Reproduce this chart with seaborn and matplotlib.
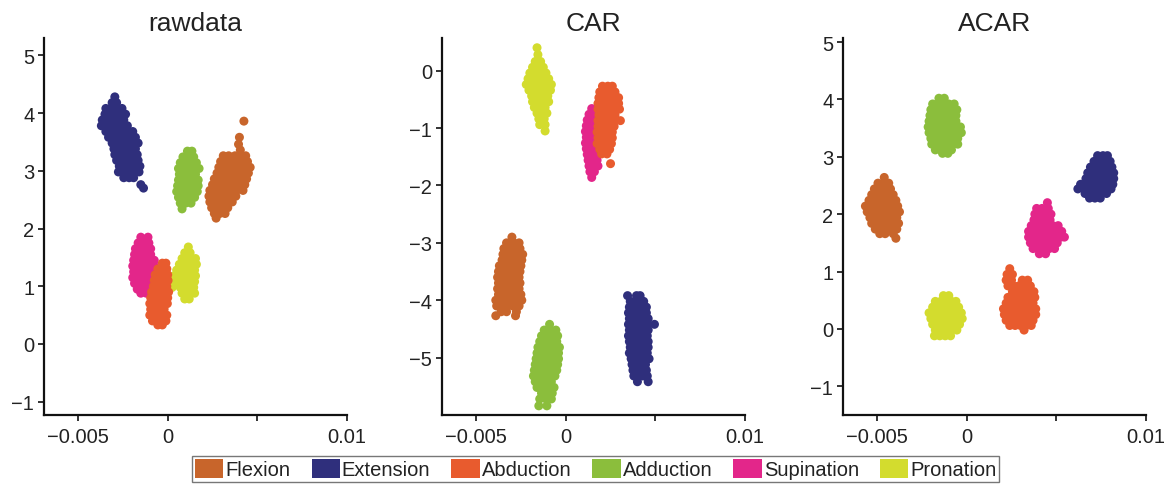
import matplotlib
matplotlib.use("Agg")
import matplotlib.pyplot as plt
from matplotlib.patches import Patch
import seaborn as sns
import pandas as pd

# ---------------- data (x in units of 1e-3, rows of (y, [x values])) ----------------
MOVEMENTS = ["Flexion", "Extension", "Abduction", "Adduction", "Supination", "Pronation"]
COLORS = ["#C8652B", "#2F2F7C", "#E85B2E", "#8BBE3C", "#E3268A", "#D3DC2E"]
DRAW_ORDER = ["Flexion", "Extension", "Supination", "Adduction", "Pronation", "Abduction"]
TITLES = ["rawdata", "CAR", "ACAR"]

# ---- rawdata ----
RAW_FLEXION = [
    (3.86, [4.25]), (3.58, [4.0]), (3.46, [3.95]), (3.36, [4.05]),
    (3.26, [3.1, 3.4, 3.75, 4.1, 4.35]),
    (3.16, [2.95, 3.25, 3.55, 3.85, 4.15, 4.45]),
    (3.06, [2.85, 3.15, 3.45, 3.75, 4.05, 4.35, 4.6]),
    (2.96, [2.75, 3.05, 3.35, 3.65, 3.95, 4.25, 4.5]),
    (2.86, [2.6, 2.9, 3.2, 3.5, 3.8, 4.1, 4.4]),
    (2.76, [2.5, 2.8, 3.1, 3.4, 3.7, 4.0, 4.3]),
    (2.66, [2.35, 2.65, 2.95, 3.25, 3.55, 3.85, 4.2]),
    (2.56, [2.3, 2.6, 2.9, 3.2, 3.5, 3.8]),
    (2.46, [2.35, 2.65, 2.95, 3.25, 3.6]),
    (2.36, [2.45, 2.75, 3.05, 3.35]),
    (2.26, [2.6, 2.9, 3.2]),
    (2.18, [2.7]),
]
RAW_EXTENSION = [
    (4.28, [-2.95]), (4.18, [-3.1, -2.85]),
    (4.08, [-3.45, -3.15, -2.85, -2.55]),
    (3.98, [-3.5, -3.2, -2.9, -2.6, -2.35]),
    (3.88, [-3.65, -3.35, -3.05, -2.75, -2.45]),
    (3.78, [-3.7, -3.4, -3.1, -2.8, -2.5, -2.25]),
    (3.68, [-3.45, -3.15, -2.85, -2.55, -2.25, -1.95]),
    (3.58, [-3.3, -3.0, -2.7, -2.4, -2.1, -1.8]),
    (3.48, [-3.1, -2.8, -2.5, -2.2, -1.9, -1.65]),
    (3.38, [-3.0, -2.7, -2.4, -2.1, -1.8]),
    (3.28, [-2.95, -2.65, -2.35, -2.05, -1.7]),
    (3.18, [-2.85, -2.55, -2.25, -1.95, -1.65]),
    (3.08, [-2.7, -2.4, -2.1, -1.8, -1.55]),
    (2.98, [-2.75, -2.45, -2.15, -1.85, -1.6]),
    (2.88, [-2.45, -2.15, -1.9]),
    (2.76, [-1.5]), (2.70, [-1.35]),
]
RAW_ABDUCTION = [
    (1.40, [-0.3, -0.1]),
    (1.30, [-0.55, -0.3, -0.05]),
    (1.20, [-0.7, -0.45, -0.2, 0.0]),
    (1.10, [-0.75, -0.5, -0.25, 0.02]),
    (1.00, [-0.8, -0.55, -0.3, -0.05]),
    (0.90, [-0.9, -0.65, -0.4, -0.15, 0.05]),
    (0.80, [-0.95, -0.7, -0.45, -0.2, 0.0]),
    (0.70, [-1.0, -0.75, -0.5, -0.25, -0.02]),
    (0.60, [-0.95, -0.7, -0.45, -0.2]),
    (0.50, [-1.0, -0.75, -0.5, -0.25, -0.05]),
    (0.40, [-0.85, -0.6, -0.35, -0.1]),
    (0.33, [-0.55, -0.3]),
]
RAW_ADDUCTION = [
    (3.34, [1.1, 1.35]),
    (3.24, [0.85, 1.15, 1.45]),
    (3.14, [0.7, 1.0, 1.3, 1.6]),
    (3.04, [0.6, 0.9, 1.2, 1.5, 1.75]),
    (2.94, [0.65, 0.95, 1.25, 1.55]),
    (2.84, [0.6, 0.9, 1.2, 1.5, 1.7]),
    (2.74, [0.55, 0.85, 1.15, 1.45, 1.7]),
    (2.64, [0.5, 0.8, 1.1, 1.4, 1.65]),
    (2.54, [0.6, 0.9, 1.2, 1.5]),
    (2.44, [0.7, 1.0, 1.3]),
    (2.34, [0.8]),
]
RAW_SUPINATION = [
    (1.85, [-1.5, -1.1]),
    (1.75, [-1.65, -1.35, -1.05]),
    (1.65, [-1.8, -1.5, -1.2, -0.95]),
    (1.55, [-1.85, -1.55, -1.25, -0.95]),
    (1.45, [-1.9, -1.6, -1.3, -1.0, -0.75]),
    (1.35, [-1.95, -1.65, -1.35, -1.05, -0.75]),
    (1.25, [-1.9, -1.6, -1.3, -1.0, -0.7]),
    (1.15, [-1.95, -1.65, -1.35, -1.05, -0.75]),
    (1.05, [-1.85, -1.55, -1.25, -0.95]),
    (0.95, [-1.7, -1.4, -1.1, -0.85]),
    (0.88, [-1.5, -1.2]),
]
RAW_PRONATION = [
    (1.68, [1.15]),
    (1.58, [0.95, 1.25]),
    (1.48, [0.8, 1.05, 1.3, 1.55]),
    (1.38, [0.65, 0.9, 1.15, 1.4, 1.6]),
    (1.28, [0.5, 0.75, 1.0, 1.25, 1.5]),
    (1.18, [0.35, 0.6, 0.85, 1.1, 1.35, 1.55]),
    (1.08, [0.3, 0.55, 0.8, 1.05, 1.3, 1.5]),
    (0.98, [0.25, 0.7, 0.95, 1.2, 1.45]),
    (0.88, [0.8, 1.05, 1.3, 1.5]),
    (0.78, [0.95, 1.2]),
]

# ---- CAR ----
CAR_FLEXION = [
    (-2.90, [-3.0]),
    (-3.00, [-3.3, -2.9, -2.6]),
    (-3.10, [-3.45, -3.15, -2.85, -2.55]),
    (-3.20, [-3.5, -3.2, -2.9, -2.6, -2.4]),
    (-3.30, [-3.55, -3.25, -2.95, -2.65, -2.45]),
    (-3.40, [-3.7, -3.4, -3.1, -2.8, -2.5]),
    (-3.50, [-3.75, -3.45, -3.15, -2.85, -2.55]),
    (-3.60, [-3.8, -3.5, -3.2, -2.9, -2.6]),
    (-3.70, [-3.75, -3.45, -3.15, -2.85, -2.55]),
    (-3.80, [-3.8, -3.5, -3.2, -2.9, -2.6]),
    (-3.90, [-3.75, -3.45, -3.15, -2.85, -2.5]),
    (-4.00, [-3.9, -3.6, -3.3, -3.0, -2.7, -2.45]),
    (-4.10, [-3.85, -3.55, -3.25, -2.95, -2.6]),
    (-4.20, [-3.6, -3.3, -2.75]),
    (-4.27, [-3.9, -2.8]),
]
CAR_EXTENSION = [
    (-3.92, [3.45, 3.95, 4.15]),
    (-4.02, [3.6, 3.85, 4.1, 4.35]),
    (-4.12, [3.55, 3.8, 4.05, 4.3, 4.5]),
    (-4.22, [3.5, 3.75, 4.0, 4.25, 4.5]),
    (-4.32, [3.55, 3.8, 4.05, 4.3, 4.6]),
    (-4.42, [3.5, 3.75, 4.0, 4.25, 4.55, 4.95]),
    (-4.52, [3.55, 3.8, 4.05, 4.3, 4.6]),
    (-4.62, [3.5, 3.75, 4.0, 4.25, 4.55]),
    (-4.72, [3.55, 3.8, 4.05, 4.3, 4.6]),
    (-4.82, [3.6, 3.85, 4.1, 4.35, 4.6]),
    (-4.92, [3.55, 3.8, 4.05, 4.3, 4.55]),
    (-5.02, [3.65, 3.9, 4.15, 4.4, 4.65]),
    (-5.12, [3.7, 3.95, 4.2, 4.45]),
    (-5.22, [3.75, 4.0, 4.25, 4.5]),
    (-5.32, [3.8, 4.05, 4.3, 4.55]),
    (-5.42, [4.0, 4.6]),
]
CAR_ABDUCTION = [
    (-0.27, [2.05, 2.35, 2.6]),
    (-0.37, [1.9, 2.2, 2.5, 2.75]),
    (-0.47, [1.85, 2.15, 2.45, 2.75, 2.95]),
    (-0.57, [1.8, 2.1, 2.4, 2.7, 2.95]),
    (-0.67, [1.8, 2.1, 2.4, 2.7, 3.0]),
    (-0.77, [1.85, 2.15, 2.45, 2.75]),
    (-0.87, [1.8, 2.1, 2.4, 2.7, 3.05]),
    (-0.97, [1.8, 2.1, 2.4, 2.7]),
    (-1.07, [1.75, 2.05, 2.35, 2.6]),
    (-1.17, [1.8, 2.1, 2.4, 2.6]),
    (-1.27, [1.75, 2.05, 2.35, 2.55]),
    (-1.37, [1.9, 2.2, 2.45]),
    (-1.45, [2.0, 2.3]),
    (-1.62, [2.5]),
]
CAR_ADDUCTION = [
    (-4.42, [-0.9]),
    (-4.52, [-1.2, -0.85, -0.55]),
    (-4.62, [-1.35, -1.05, -0.75, -0.45]),
    (-4.72, [-1.45, -1.15, -0.85, -0.5]),
    (-4.82, [-1.55, -1.25, -0.95, -0.65, -0.35]),
    (-4.92, [-1.6, -1.3, -1.0, -0.7, -0.4]),
    (-5.02, [-1.65, -1.35, -1.05, -0.75, -0.4]),
    (-5.12, [-1.7, -1.4, -1.1, -0.8, -0.45]),
    (-5.22, [-1.75, -1.45, -1.15, -0.85, -0.5]),
    (-5.32, [-1.8, -1.5, -1.2, -0.9, -0.6]),
    (-5.42, [-1.7, -1.4, -1.1, -0.8]),
    (-5.52, [-1.6, -1.3, -1.0, -0.65]),
    (-5.62, [-1.35, -1.05, -0.75]),
    (-5.72, [-1.45, -1.1, -0.8]),
    (-5.84, [-1.5, -1.05]),
]
CAR_SUPINATION = [
    (-0.66, [1.45]),
    (-0.76, [1.3, 1.6]),
    (-0.86, [1.2, 1.45, 1.7]),
    (-0.96, [1.15, 1.4, 1.65, 1.85]),
    (-1.06, [1.1, 1.35, 1.6, 1.85]),
    (-1.16, [1.15, 1.4, 1.65, 1.9]),
    (-1.26, [1.1, 1.35, 1.6, 1.85]),
    (-1.36, [1.15, 1.4, 1.65, 1.9]),
    (-1.46, [1.2, 1.45, 1.7]),
    (-1.56, [1.25, 1.5, 1.75]),
    (-1.66, [1.3, 1.55, 1.8]),
    (-1.76, [1.35, 1.6]),
    (-1.86, [1.45]),
]
CAR_PRONATION = [
    (0.40, [-1.6]), (0.28, [-1.55]),
    (0.16, [-1.7, -1.4]),
    (0.06, [-1.85, -1.55, -1.25]),
    (-0.04, [-2.0, -1.7, -1.4, -1.1]),
    (-0.14, [-2.1, -1.8, -1.5, -1.2, -0.95]),
    (-0.24, [-2.2, -1.9, -1.6, -1.3, -1.0, -0.8]),
    (-0.34, [-2.05, -1.75, -1.45, -1.15, -0.85]),
    (-0.44, [-1.9, -1.6, -1.3, -1.0]),
    (-0.54, [-1.85, -1.55, -1.25, -0.95]),
    (-0.64, [-1.75, -1.45, -1.15]),
    (-0.74, [-1.6, -1.3, -1.05]),
    (-0.84, [-1.5, -1.2]),
    (-0.94, [-1.45, -1.15]),
    (-1.05, [-1.15]),
]

# ---- ACAR ----
ACAR_FLEXION = [
    (2.64, [-4.6]),
    (2.54, [-4.95, -4.65, -4.35]),
    (2.44, [-5.15, -4.85, -4.55, -4.25]),
    (2.34, [-5.3, -5.0, -4.7, -4.4, -4.1]),
    (2.24, [-5.45, -5.15, -4.85, -4.55, -4.25, -3.95]),
    (2.14, [-5.65, -5.35, -5.05, -4.75, -4.45, -4.15, -3.85]),
    (2.04, [-5.55, -5.25, -4.95, -4.65, -4.35, -4.05, -3.75]),
    (1.94, [-5.4, -5.1, -4.8, -4.5, -4.2, -3.9]),
    (1.84, [-5.3, -5.0, -4.7, -4.4, -4.1, -3.8]),
    (1.74, [-5.1, -4.8, -4.5, -4.2, -3.9]),
    (1.66, [-4.85, -4.55, -4.1]),
    (1.58, [-3.95]),
]
ACAR_EXTENSION = [
    (3.02, [7.3, 7.6, 7.85]),
    (2.92, [7.1, 7.4, 7.7, 8.0]),
    (2.82, [6.9, 7.2, 7.5, 7.8, 8.1]),
    (2.72, [6.75, 7.05, 7.35, 7.65, 7.95, 8.2]),
    (2.62, [6.65, 6.95, 7.25, 7.55, 7.85, 8.2]),
    (2.52, [6.35, 6.65, 6.95, 7.25, 7.55, 7.85, 8.15]),
    (2.44, [6.2, 6.55, 6.85, 7.15, 7.45, 7.75, 8.05]),
    (2.36, [6.6, 6.9, 7.2, 7.5, 7.8]),
    (2.28, [6.85, 7.15, 7.45]),
]
ACAR_ABDUCTION = [
    (1.05, [2.4]),
    (0.95, [2.25, 2.55]),
    (0.85, [2.2, 2.5, 3.1, 3.4]),
    (0.75, [2.3, 2.6, 2.9, 3.2, 3.55]),
    (0.65, [2.55, 2.85, 3.15, 3.45, 3.75]),
    (0.55, [2.3, 2.6, 2.9, 3.2, 3.5, 3.8]),
    (0.45, [2.2, 2.5, 2.8, 3.1, 3.4, 3.7]),
    (0.35, [2.05, 2.35, 2.65, 2.95, 3.25, 3.55, 3.85]),
    (0.25, [2.1, 2.4, 2.7, 3.0, 3.3, 3.6, 3.85]),
    (0.15, [2.2, 2.5, 2.8, 3.1, 3.4, 3.7]),
    (0.06, [2.4, 2.7, 3.0, 3.3, 3.6]),
    (-0.02, [3.2]),
]
ACAR_ADDUCTION = [
    (4.02, [-1.55, -1.25]),
    (3.92, [-1.9, -1.6, -1.3, -1.0, -0.7]),
    (3.82, [-2.0, -1.7, -1.4, -1.1, -0.8, -0.55]),
    (3.72, [-2.05, -1.75, -1.45, -1.15, -0.85, -0.6]),
    (3.62, [-2.1, -1.8, -1.5, -1.2, -0.9, -0.6]),
    (3.52, [-2.15, -1.85, -1.55, -1.25, -0.95, -0.65, -0.35]),
    (3.42, [-2.1, -1.8, -1.5, -1.2, -0.9, -0.6, -0.3]),
    (3.32, [-2.0, -1.7, -1.4, -1.1, -0.8, -0.5]),
    (3.22, [-1.95, -1.65, -1.35, -1.05, -0.75, -0.5]),
    (3.12, [-1.75, -1.45, -1.15, -0.85]),
    (3.06, [-1.35, -1.05]),
]
ACAR_SUPINATION = [
    (2.20, [4.5]),
    (2.10, [3.9, 4.2, 4.55]),
    (2.00, [3.8, 4.1, 4.4, 4.7]),
    (1.90, [3.75, 4.05, 4.35, 4.65]),
    (1.80, [3.6, 3.9, 4.2, 4.5, 4.8, 5.1]),
    (1.70, [3.45, 3.75, 4.05, 4.35, 4.65, 4.95, 5.3]),
    (1.60, [3.45, 3.75, 4.05, 4.35, 4.65, 4.95, 5.25, 5.45]),
    (1.50, [3.55, 3.85, 4.15, 4.45, 4.75, 5.05]),
    (1.40, [3.7, 4.0, 4.3, 4.6, 4.9]),
    (1.31, [4.05, 4.4]),
]
ACAR_PRONATION = [
    (0.58, [-1.3, -1.0]),
    (0.48, [-1.75, -1.45, -1.15, -0.85, -0.6]),
    (0.38, [-1.9, -1.6, -1.3, -1.0, -0.7, -0.45]),
    (0.28, [-2.1, -1.8, -1.5, -1.2, -0.9, -0.6, -0.3]),
    (0.18, [-2.0, -1.7, -1.4, -1.1, -0.8, -0.5, -0.25]),
    (0.08, [-1.9, -1.6, -1.3, -1.0, -0.7, -0.4]),
    (-0.02, [-1.75, -1.45, -1.15, -0.85, -0.55]),
    (-0.12, [-1.8, -1.5, -1.2, -0.9]),
]

X_TICKS = [-0.005, 0, 0.005, 0.01]
X_TICKLABELS = ["\u22120.005", "0", "", "0.01"]
Y_TICKS = [[-1, 0, 1, 2, 3, 4, 5], [-5, -4, -3, -2, -1, 0], [-1, 0, 1, 2, 3, 4, 5]]
Y_LIMS = [(-1.23, 5.3), (-6.0, 0.57), (-1.5, 5.07)]
X_LIM = (-0.0069, 0.01)

PANELS = [
    {"Flexion": RAW_FLEXION, "Extension": RAW_EXTENSION, "Abduction": RAW_ABDUCTION,
     "Adduction": RAW_ADDUCTION, "Supination": RAW_SUPINATION, "Pronation": RAW_PRONATION},
    {"Flexion": CAR_FLEXION, "Extension": CAR_EXTENSION, "Abduction": CAR_ABDUCTION,
     "Adduction": CAR_ADDUCTION, "Supination": CAR_SUPINATION, "Pronation": CAR_PRONATION},
    {"Flexion": ACAR_FLEXION, "Extension": ACAR_EXTENSION, "Abduction": ACAR_ABDUCTION,
     "Adduction": ACAR_ADDUCTION, "Supination": ACAR_SUPINATION, "Pronation": ACAR_PRONATION},
]


def build_frame(panel):
    recs = []
    for mv in DRAW_ORDER:
        for y, xs in panel[mv]:
            for x in xs:
                recs.append({"movement": mv, "x": x * 1e-3, "y": y})
    return pd.DataFrame(recs)


# ---------------- styling ----------------
sns.set_style("ticks")
plt.rcParams["font.family"] = ["Liberation Sans", "DejaVu Sans"]
plt.rcParams["axes.unicode_minus"] = True

palette = dict(zip(MOVEMENTS, COLORS))
TXT = "#222222"

fig = plt.figure(figsize=(11.66, 4.85), dpi=100)
lefts = [44 / 1166, 442 / 1166, 843 / 1166]
width = 303 / 1166
bottom = 1 - 416 / 485
height = (416 - 39) / 485

for i, panel in enumerate(PANELS):
    ax = fig.add_axes([lefts[i], bottom, width, height])
    df = build_frame(panel)
    sns.scatterplot(data=df, x="x", y="y", hue="movement", palette=palette,
                    s=42, linewidth=0, alpha=1, legend=False, ax=ax)
    ax.set_xlim(*X_LIM)
    ax.set_ylim(*Y_LIMS[i])
    ax.set_xticks(X_TICKS)
    ax.set_xticklabels(X_TICKLABELS)
    ax.set_yticks(Y_TICKS[i])
    ax.set_yticklabels([str(v).replace("-", "\u2212") for v in Y_TICKS[i]])
    ax.set_xlabel("")
    ax.set_ylabel("")
    ax.set_title(TITLES[i], fontsize=19, color=TXT, pad=6)
    for side in ["top", "right"]:
        ax.spines[side].set_visible(False)
    for side in ["left", "bottom"]:
        ax.spines[side].set_linewidth(1.6)
        ax.spines[side].set_color("#111111")
    ax.tick_params(axis="both", direction="out", length=4, width=1.2,
                   colors="#111111", labelsize=14.5, labelcolor=TXT, pad=3)
    ax.tick_params(axis="x", pad=5)
    ax.set_facecolor("white")

handles = [Patch(facecolor=palette[m], edgecolor="none", label=m) for m in MOVEMENTS]
leg = fig.legend(handles=handles, loc="center", bbox_to_anchor=(0.511, 0.030),
                 ncol=6, fontsize=14.5, frameon=True, fancybox=False,
                 edgecolor="#555555", handlelength=1.4, handleheight=1.0,
                 handletextpad=0.1, columnspacing=1.05, borderpad=0.15,
                 borderaxespad=0)
leg.get_frame().set_linewidth(1.0)
for t in leg.get_texts():
    t.set_color(TXT)

fig.savefig("out.png", dpi=100, facecolor="white")
